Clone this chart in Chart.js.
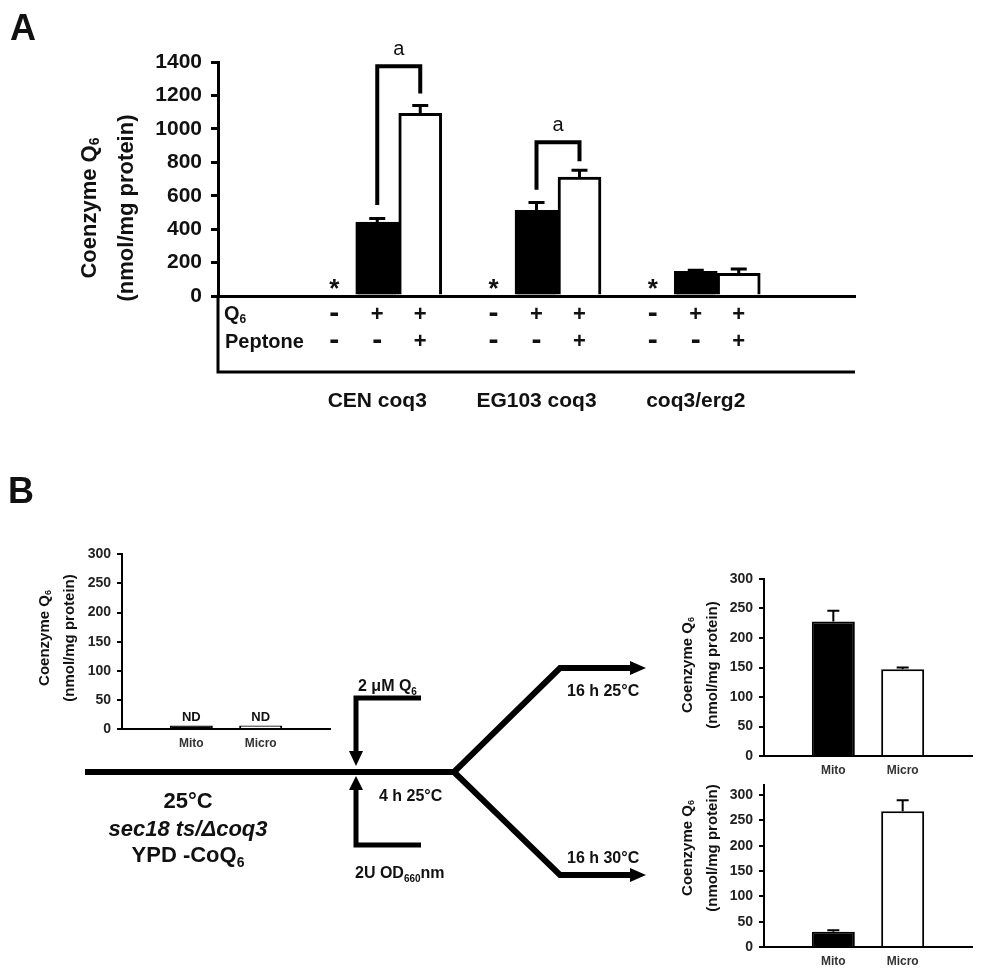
<!DOCTYPE html>
<html>
<head>
<meta charset="utf-8">
<script src="https://cdn.jsdelivr.net/npm/chart.js@4.4.1/dist/chart.umd.min.js"></script>
<style>
  html, body { margin: 0; padding: 0; background: #fff; }
  #page { position: relative; width: 981px; height: 975px; overflow: hidden; }
  canvas { position: absolute; }
  svg { position: absolute; left: 0; top: 0; }
</style>
</head>
<body>
<div id="page">
  <canvas id="chartA" width="981" height="430" style="left:0;top:0"></canvas>
  <canvas id="chartB1" width="340" height="220" style="left:0;top:540px"></canvas>
  <canvas id="chartB2" width="321" height="230" style="left:660px;top:560px"></canvas>
  <canvas id="chartB3" width="321" height="205" style="left:660px;top:770px"></canvas>
  <svg width="981" height="975" font-family="'Liberation Sans', Arial, sans-serif" font-weight="bold" fill="#111">
    <text x="10" y="40" font-size="36">A</text>
    <text x="8" y="503" font-size="36">B</text>
    <!-- time line -->
    <g stroke="#000" fill="none" stroke-width="6" stroke-linejoin="miter">
      <polyline points="85,772 454,772"/>
      <polyline points="454,772 560,668 632,668"/>
      <polyline points="454,772 560,875 632,875"/>
    </g>
    <g stroke="#000" fill="none" stroke-width="5" stroke-linejoin="miter">
      <polyline points="421,698 356,698 356,752"/>
      <polyline points="421,845 356,845 356,790"/>
    </g>
    <g fill="#000">
      <polygon points="630,661 646,668 630,675"/>
      <polygon points="630,868 646,875 630,882"/>
      <polygon points="349,751 363,751 356,766"/>
      <polygon points="349,790 363,790 356,776"/>
    </g>
    <text x="358" y="691" font-size="16">2 μM Q<tspan dy="4" font-size="10">6</tspan></text>
    <text x="567" y="696" font-size="16">16 h 25°C</text>
    <text x="379" y="801" font-size="16">4 h 25°C</text>
    <text x="567" y="863" font-size="16">16 h 30°C</text>
    <text x="355" y="878" font-size="16">2U OD<tspan dy="4" font-size="10">660</tspan><tspan dy="-4">nm</tspan></text>
    <text x="188" y="808" font-size="22" text-anchor="middle">25°C</text>
    <text x="188" y="836" font-size="22" text-anchor="middle" font-style="italic">sec18 ts/Δcoq3</text>
    <text x="188" y="862" font-size="22" text-anchor="middle">YPD -CoQ<tspan dy="5" font-size="14">6</tspan></text>
  </svg>
</div>
<script>
const FONT = "'Liberation Sans', Arial, sans-serif";

// ---- panel A: CoQ6 content (nmol/mg protein)
const groupNames = ['CEN coq3', 'EG103 coq3', 'coq3/erg2'];
const slotShift = [-0.27, 0, 0.27];      // no Q6 / Q6 / Q6 + peptone
const noQ6 = [0, 0, 0];
const q6Only = [442, 512, 148];
const q6OnlyErr = [22, 48, 6];
const q6Peptone = [1093, 712, 135];
const q6PeptoneErr = [47, 40, 27];
const q6Row = ['-', '+', '+'];
const peptoneRow = ['-', '-', '+'];
// significance brackets ("a")
const sigGroup = [0, 1];
const sigLow = [545, 635];
const sigHigh = [1212, 806];
const sigTop = [1375, 920];
const sigLabel = ['a', 'a'];

// ---- panel B: Mito / Micro fractions
const fractions = ['', 'Mito', 'Micro', ''];
const before = [null, 6, 6, null];
const beforeMarks = [null, 'ND', 'ND', null];
const after25 = [null, 228, 147, null];
const after25Err = [null, 18, 3, null];
const after30 = [null, 30, 268, null];
const after30Err = [null, 3, 22, null];

function drawParts(ctx, parts, x, y, size) {
  // centred run of text, parts = [[text, 'sub'|null], ...]
  const fonts = parts.map(p => p[1] ? `bold ${Math.round(size * 0.62)}px ${FONT}` : `bold ${size}px ${FONT}`);
  let w = 0;
  parts.forEach((p, i) => { ctx.font = fonts[i]; w += ctx.measureText(p[0]).width; });
  let cx = x - w / 2;
  ctx.textAlign = 'left';
  parts.forEach((p, i) => {
    ctx.font = fonts[i];
    ctx.fillText(p[0], cx, y + (p[1] === 'sub' ? size * 0.25 : 0));
    cx += ctx.measureText(p[0]).width;
  });
}

function drawYTitle(ctx, x1, x2, cy, size) {
  ctx.save();
  ctx.fillStyle = '#111';
  ctx.textBaseline = 'middle';
  ctx.translate(x1, cy);
  ctx.rotate(-Math.PI / 2);
  drawParts(ctx, [['Coenzyme Q', null], ['6', 'sub']], 0, 0, size);
  ctx.restore();
  ctx.save();
  ctx.fillStyle = '#111';
  ctx.textBaseline = 'middle';
  ctx.translate(x2, cy);
  ctx.rotate(-Math.PI / 2);
  drawParts(ctx, [['(nmol/mg protein)', null]], 0, 0, size);
  ctx.restore();
}

const panelAExtras = {
  id: 'panelAExtras',
  afterDraw(chart) {
    const { ctx, chartArea, scales: { x, y } } = chart;
    const base = y.getPixelForValue(0);
    ctx.save();
    ctx.strokeStyle = '#000';
    ctx.fillStyle = '#111';

    // error bars (upper half)
    [[1, q6OnlyErr], [2, q6PeptoneErr]].forEach(([di, err]) => {
      const ds = chart.data.datasets[di];
      chart.getDatasetMeta(di).data.forEach((bar, i) => {
        const top = y.getPixelForValue(ds.data[i].y + err[i]);
        ctx.lineWidth = 3;
        ctx.beginPath();
        ctx.moveTo(bar.x, bar.y);
        ctx.lineTo(bar.x, top);
        ctx.moveTo(bar.x - 8, top);
        ctx.lineTo(bar.x + 8, top);
        ctx.stroke();
      });
    });

    // "*" = not detected
    ctx.font = `bold 26px ${FONT}`;
    ctx.textAlign = 'center';
    ctx.textBaseline = 'alphabetic';
    chart.getDatasetMeta(0).data.forEach(bar => ctx.fillText('*', bar.x, base + 1));

    // brackets
    sigGroup.forEach((g, k) => {
      const xl = x.getPixelForValue(g + slotShift[1]);
      const xr = x.getPixelForValue(g + slotShift[2]);
      const yt = y.getPixelForValue(sigTop[k]);
      ctx.lineWidth = 4;
      ctx.beginPath();
      ctx.moveTo(xl, y.getPixelForValue(sigLow[k]));
      ctx.lineTo(xl, yt);
      ctx.lineTo(xr, yt);
      ctx.lineTo(xr, y.getPixelForValue(sigHigh[k]));
      ctx.stroke();
      ctx.font = `20px ${FONT}`;
      ctx.textBaseline = 'middle';
      ctx.textAlign = 'center';
      ctx.fillText(sigLabel[k], (xl + xr) / 2, yt - 17);
    });

    // condition table
    ctx.lineWidth = 3;
    ctx.beginPath();
    ctx.moveTo(chartArea.left, base);
    ctx.lineTo(chartArea.left, base + 76);
    ctx.lineTo(chartArea.right, base + 76);
    ctx.stroke();

    ctx.textBaseline = 'middle';
    ctx.textAlign = 'left';
    ctx.font = `bold 20px ${FONT}`;
    ctx.fillText('Q', chartArea.left + 6, base + 18);
    const qw = ctx.measureText('Q').width;
    ctx.font = `bold 12px ${FONT}`;
    ctx.fillText('6', chartArea.left + 6 + qw, base + 24);
    ctx.font = `bold 20px ${FONT}`;
    ctx.fillText('Peptone', chartArea.left + 7, base + 46);

    ctx.textAlign = 'center';
    const sign = (t, px, py) => {
      ctx.font = t === '-' ? `bold 30px ${FONT}` : `bold 22px ${FONT}`;
      ctx.fillText(t, px, py + (t === '-' ? -1 : 0));
    };
    groupNames.forEach((name, g) => {
      slotShift.forEach((s, k) => {
        const px = x.getPixelForValue(g + s);
        sign(q6Row[k], px, base + 19);
        sign(peptoneRow[k], px, base + 46);
      });
    });
    ctx.font = `bold 21px ${FONT}`;
    groupNames.forEach((name, g) => ctx.fillText(name, x.getPixelForValue(g), base + 105));

    drawYTitle(ctx, 90, 127, 208, 22);
    ctx.restore();
  }
};

const pts = (vals, s) => vals.map((v, g) => ({ x: g + slotShift[s], y: v }));

new Chart(document.getElementById('chartA'), {
  type: 'bar',
  data: {
    datasets: [
      { label: 'no Q6', data: pts(noQ6, 0), backgroundColor: 'rgba(0,0,0,0)', borderWidth: 0 },
      { label: 'Q6', data: pts(q6Only, 1), backgroundColor: '#000', borderColor: '#000', borderWidth: 3 },
      { label: 'Q6 + peptone', data: pts(q6Peptone, 2), backgroundColor: '#fff', borderColor: '#000', borderWidth: 3 }
    ]
  },
  options: {
    responsive: false,
    animation: false,
    layout: { padding: { top: 62, right: 126, bottom: 134, left: 0 } },
    datasets: { bar: { grouped: false, barPercentage: 1, categoryPercentage: 1 } },
    plugins: { legend: { display: false }, tooltip: { enabled: false } },
    scales: {
      x: {
        type: 'linear', min: -1, max: 3, offset: false,
        ticks: { display: false },
        grid: { display: false, drawTicks: false, offset: false },
        border: { color: '#000', width: 3 },
        afterFit: s => { s.height = 0; }
      },
      y: {
        min: 0, max: 1400,
        ticks: { stepSize: 200, color: '#111', padding: 9, font: { family: FONT, size: 21, weight: 'bold' }, callback: v => String(v) },
        grid: { drawOnChartArea: false, color: '#000', lineWidth: 3, tickLength: 7 },
        border: { color: '#000', width: 3 },
        afterFit: s => { s.width = 218; }
      }
    }
  },
  plugins: [panelAExtras]
});

function bExtras(errs, marks, tx1, tx2, tcy) {
  return {
    id: 'bExtras',
    afterDraw(chart) {
      const { ctx, scales: { y } } = chart;
      const vals = chart.data.datasets[0].data;
      ctx.save();
      ctx.strokeStyle = '#000';
      ctx.fillStyle = '#111';
      ctx.lineWidth = 2;
      chart.getDatasetMeta(0).data.forEach((bar, i) => {
        if (vals[i] == null) return;
        if (errs && errs[i]) {
          const top = y.getPixelForValue(vals[i] + errs[i]);
          ctx.beginPath();
          ctx.moveTo(bar.x, bar.y);
          ctx.lineTo(bar.x, top);
          ctx.moveTo(bar.x - 6, top);
          ctx.lineTo(bar.x + 6, top);
          ctx.stroke();
        }
        if (marks && marks[i]) {
          ctx.font = `bold 13px ${FONT}`;
          ctx.textAlign = 'center';
          ctx.textBaseline = 'alphabetic';
          ctx.fillText(marks[i], bar.x, bar.y - 5);
        }
      });
      drawYTitle(ctx, tx1, tx2, tcy, 15);
      ctx.restore();
    }
  };
}

function makeB(id, values, errs, marks, yMax, pad, yWidth, title) {
  return new Chart(document.getElementById(id), {
    type: 'bar',
    data: {
      labels: fractions,
      datasets: [{
        data: values,
        backgroundColor: ['#000', '#000', '#fff', '#000'],
        borderColor: '#000',
        borderWidth: 2,
        barPercentage: 1,
        categoryPercentage: 0.62
      }]
    },
    options: {
      responsive: false,
      animation: false,
      layout: { padding: pad },
      plugins: { legend: { display: false }, tooltip: { enabled: false } },
      scales: {
        x: {
          offset: false,
          ticks: { autoSkip: false, maxRotation: 0, color: '#333', padding: 7, font: { family: FONT, size: 12, weight: 'bold' } },
          grid: { display: false, drawTicks: false },
          border: { color: '#000', width: 2 },
          afterFit: s => { s.height = 18; }
        },
        y: {
          min: 0, max: yMax,
          ticks: { stepSize: 50, includeBounds: false, color: '#222', padding: 6, font: { family: FONT, size: 14, weight: 'bold' } },
          grid: { drawOnChartArea: false, color: '#000', lineWidth: 2, tickLength: 5 },
          border: { color: '#000', width: 2 },
          afterFit: s => { s.width = yWidth; }
        }
      }
    },
    plugins: [bExtras(errs, marks, title[0], title[1], title[2])]
  });
}

makeB('chartB1', before, null, beforeMarks, 300, { top: 13, right: 10, bottom: 13, left: 0 }, 122, [45, 70, 98]);
makeB('chartB2', after25, after25Err, null, 300, { top: 19, right: 9, bottom: 16, left: 0 }, 104, [28, 53, 105]);
makeB('chartB3', after30, after30Err, null, 320, { top: 15, right: 9, bottom: 10, left: 0 }, 104, [28, 53, 78]);
</script>
</body>
</html>
